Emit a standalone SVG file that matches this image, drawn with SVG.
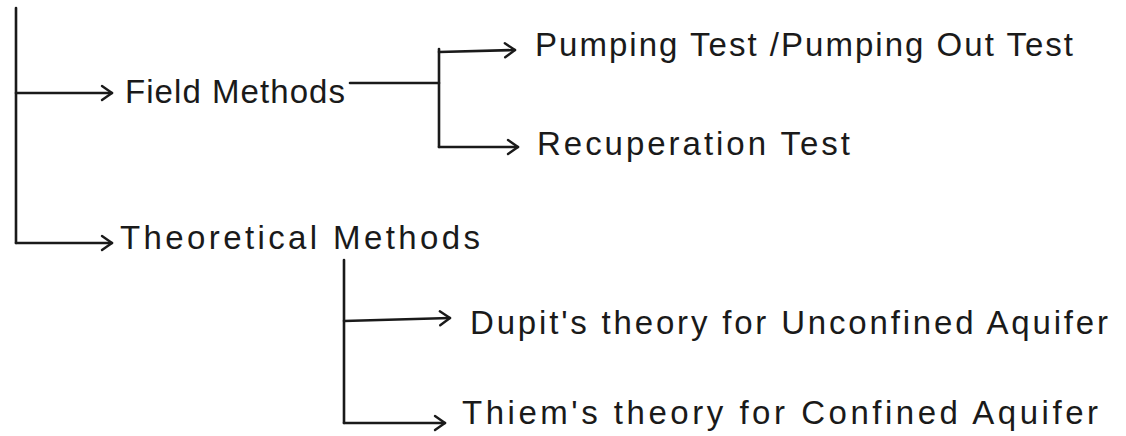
<svg xmlns="http://www.w3.org/2000/svg" width="1126" height="436" viewBox="0 0 1126 436">
  <style>
    .ln { fill: none; stroke: #1a1a1a; stroke-width: 2.6; stroke-linecap: round; stroke-linejoin: round; }
    .tx { font-family: "Liberation Sans", "DejaVu Sans", sans-serif; font-size: 33px; fill: #1a1a1a; }
  </style>
  <defs>
    <marker id="arr" viewBox="-12 -9 14 18" refX="0" refY="0" markerWidth="14" markerHeight="18" markerUnits="userSpaceOnUse" orient="auto">
      <path d="M-10,-7 L0,0 L-10,7" fill="none" stroke="#1a1a1a" stroke-width="2.4" stroke-linecap="round" stroke-linejoin="round"/>
    </marker>
  </defs>
  <rect width="1126" height="436" fill="#ffffff"/>
  <g id="connectors">
    <path class="ln" d="M16,8 V243"/>
    <path class="ln" d="M16,93 H112" marker-end="url(#arr)"/>
    <path class="ln" d="M16,243 H112" marker-end="url(#arr)"/>
    <path class="ln" d="M350,83 H439"/>
    <path class="ln" d="M439,49 V147"/>
    <path class="ln" d="M439,52 L515,50" marker-end="url(#arr)"/>
    <path class="ln" d="M439,147 H518" marker-end="url(#arr)"/>
    <path class="ln" d="M344,260 V423"/>
    <path class="ln" d="M344,321 L450,318" marker-end="url(#arr)"/>
    <path class="ln" d="M344,423 H445" marker-end="url(#arr)"/>
  </g>
  <g id="field-methods">
    <text class="tx" x="125" y="103" textLength="220">Field Methods</text>
  </g>
  <g id="pumping-test">
    <text class="tx" x="535" y="56" textLength="538">Pumping Test /Pumping Out Test</text>
  </g>
  <g id="recuperation-test">
    <text class="tx" x="537" y="155" textLength="313">Recuperation Test</text>
  </g>
  <g id="theoretical-methods">
    <text class="tx" x="120" y="249" textLength="360">Theoretical Methods</text>
  </g>
  <g id="dupit-theory">
    <text class="tx" x="470" y="334" textLength="638">Dupit's theory for Unconfined Aquifer</text>
  </g>
  <g id="thiem-theory">
    <text class="tx" x="462" y="424" textLength="636">Thiem's theory for Confined Aquifer</text>
  </g>
</svg>
